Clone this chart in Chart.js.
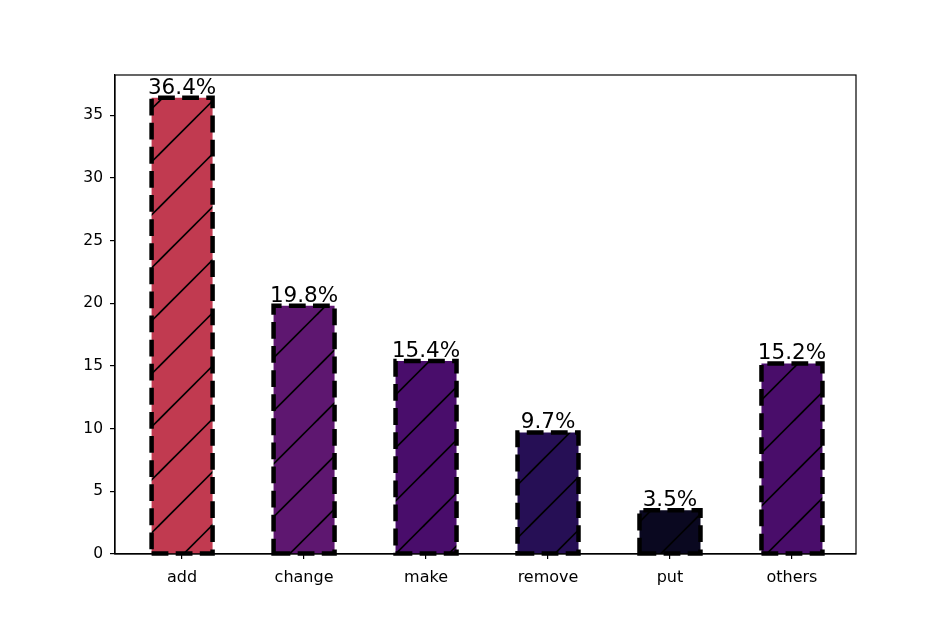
<!DOCTYPE html>
<html>
<head>
<meta charset="utf-8">
<script src="https://cdn.jsdelivr.net/npm/chart.js@4.4.1/dist/chart.umd.min.js"></script>
<style>
  body { margin: 0; background: #fff; }
  #wrap { width: 952px; height: 634px; }
</style>
</head>
<body>
<div id="wrap"><canvas id="myChart" width="952" height="634"></canvas></div>
<script>
// data
var categories = ['add', 'change', 'make', 'remove', 'put', 'others'];
var shares = [36.4, 19.8, 15.4, 9.7, 3.5, 15.2];
var barColors = ['#c13a50', '#5e1770', '#490d6b', '#260f55', '#0a0820', '#490d6a'];
var yTicks = [0, 5, 10, 15, 20, 25, 30, 35];

var FONT = "'DejaVu Sans', sans-serif";

// hatch "/" on top of the fill colour, anchored to the canvas origin
function hatchFill(color){
    var size = 53, c = document.createElement('canvas');
    c.width = size; c.height = size;
    var g = c.getContext('2d');
    g.fillStyle = color;
    g.fillRect(0, 0, size, size);
    g.strokeStyle = '#000';
    g.lineWidth = 1.6;
    [-4.5, 48.5, 101.5].forEach(function(k){
        g.beginPath();
        g.moveTo(-5, k + 5);
        g.lineTo(k + 5, -5);
        g.stroke();
    });
    return g.createPattern(c, 'repeat');
}

var barEdges = {
    id: 'barEdges',
    afterDatasetsDraw: function(chart){
        var ctx = chart.ctx;
        chart.getDatasetMeta(0).data.forEach(function(bar){
            var half = bar.width / 2, l = bar.x - half, r = bar.x + half;
            ctx.save();
            ctx.strokeStyle = '#000';
            ctx.lineWidth = 4.5;
            ctx.setLineDash([16.8, 7.3]);
            ctx.beginPath();
            ctx.moveTo(l, bar.base);
            ctx.lineTo(r, bar.base);
            ctx.lineTo(r, bar.y);
            ctx.lineTo(l, bar.y);
            ctx.closePath();
            ctx.stroke();
            ctx.restore();
        });
    },
    afterDraw: function(chart){
        var ctx = chart.ctx, a = chart.chartArea;
        ctx.save();
        ctx.strokeStyle = '#000';
        ctx.lineWidth = 1.2;
        ctx.strokeRect(a.left, a.top, a.right - a.left, a.bottom - a.top);
        ctx.fillStyle = '#000';
        ctx.font = '21.5px ' + FONT;
        ctx.textAlign = 'center';
        ctx.textBaseline = 'bottom';
        chart.getDatasetMeta(0).data.forEach(function(bar, i){
            ctx.fillText(shares[i].toFixed(1) + '%', bar.x, bar.y + 1);
        });
        ctx.restore();
    }
};

var ctx = document.getElementById('myChart').getContext('2d');
var chart = new Chart(ctx, {
    type: 'bar',
    data: {
        datasets: [{
            data: shares.map(function(v, i){ return {x: i, y: v}; }),
            backgroundColor: barColors.map(hatchFill),
            borderWidth: 0,
            barPercentage: 0.5,
            categoryPercentage: 1
        }]
    },
    options: {
        responsive: false,
        animation: false,
        layout: { padding: { left: 0, top: 75, right: 96, bottom: 0 } },
        plugins: { legend: { display: false }, tooltip: { enabled: false } },
        scales: {
            x: {
                type: 'linear',
                offset: false,
                min: -0.55,
                max: 5.525,
                afterBuildTicks: function(s){ s.ticks = categories.map(function(c, i){ return {value: i}; }); },
                afterFit: function(s){ s.height = 80; },
                ticks: {
                    color: '#000',
                    font: { family: FONT, size: 16 },
                    padding: 9,
                    maxRotation: 0,
                    autoSkip: false,
                    callback: function(v){ return categories[v]; }
                },
                grid: { display: true, offset: false, drawOnChartArea: false, drawTicks: true, tickLength: 5, color: '#000', lineWidth: 1.2 },
                border: { display: true, color: '#000', width: 1.2 }
            },
            y: {
                min: 0,
                max: 38.22,
                afterBuildTicks: function(s){ s.ticks = yTicks.map(function(v){ return {value: v}; }); },
                afterFit: function(s){ s.width = 115; },
                ticks: {
                    color: '#000',
                    font: { family: FONT, size: 15.5 },
                    padding: 7
                },
                grid: { display: true, drawOnChartArea: false, drawTicks: true, tickLength: 5, color: '#000', lineWidth: 1.2 },
                border: { display: true, color: '#000', width: 1.2 }
            }
        }
    },
    plugins: [barEdges]
});
</script>
</body>
</html>
